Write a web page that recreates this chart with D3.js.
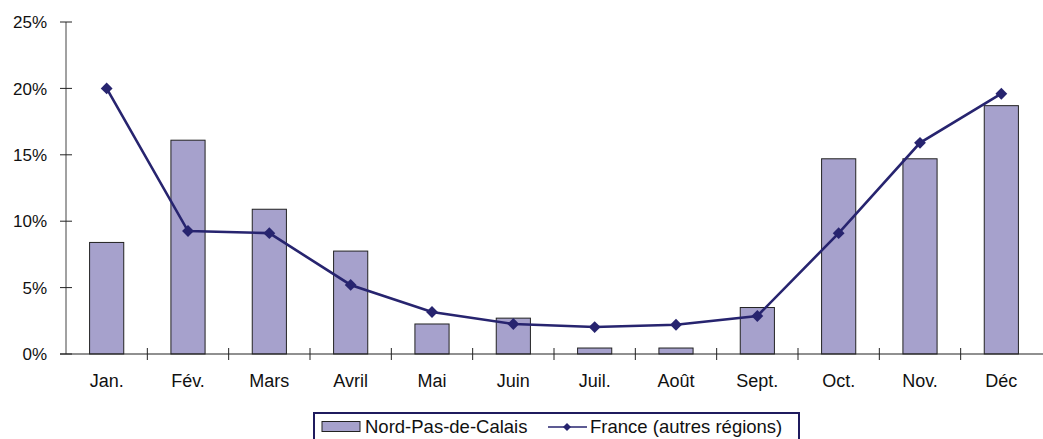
<!DOCTYPE html>
<html>
<head>
<meta charset="utf-8">
<script src="https://cdn.jsdelivr.net/npm/d3@7"></script>
<style>
  body { margin: 0; background: #fff; }
  text { font-family: "Liberation Sans", Arial, sans-serif; }
</style>
</head>
<body>
<script>
const months = ['Jan.', 'Fév.', 'Mars', 'Avril', 'Mai', 'Juin', 'Juil.', 'Août', 'Sept.', 'Oct.', 'Nov.', 'Déc']
const nordPasDeCalais = [8.4, 16.1, 10.9, 7.75, 2.26, 2.7, 0.45, 0.45, 3.5, 14.7, 14.7, 18.7]
const franceAutres = [20.0, 9.26, 9.1, 5.2, 3.16, 2.26, 2.03, 2.2, 2.86, 9.1, 15.9, 19.6]
const yTicks = [0, 5, 10, 15, 20, 25]
const seriesNames = ['Nord-Pas-de-Calais', 'France (autres régions)']

const WIDTH = 1043
const HEIGHT = 439
const barColor = '#a6a1cc'
const lineColor = '#27246f'

const svg = d3.select(document.body).append('svg')
  .attr('width', WIDTH)
  .attr('height', HEIGHT)

const x = d3.scaleBand()
  .domain(months)
  .range([66, 1042])
  .paddingInner(0.58)
  .paddingOuter(0.29)

const xTickScale = d3.scaleLinear().domain([0, 12]).range([66, 1042])

const y = d3.scaleLinear().domain([0, 25]).range([354, 22])

// bars
svg.append('g').selectAll('rect')
  .data(nordPasDeCalais)
  .enter()
  .append('rect')
  .attr('x', (d, i) => x(months[i]))
  .attr('y', d => y(d))
  .attr('width', x.bandwidth())
  .attr('height', d => y(0) - y(d))
  .attr('fill', barColor)
  .attr('stroke', '#222')
  .attr('stroke-width', 1)

// y axis
const yAxis = svg.append('g')
yAxis.append('line')
  .attr('x1', 66).attr('x2', 66)
  .attr('y1', y(25)).attr('y2', y(0))
  .attr('stroke', '#444').attr('stroke-width', 1)
yAxis.selectAll('line.tick')
  .data(yTicks)
  .enter()
  .append('line')
  .attr('class', 'tick')
  .attr('x1', 60).attr('x2', 72)
  .attr('y1', d => y(d)).attr('y2', d => y(d))
  .attr('stroke', '#222')
yAxis.selectAll('text')
  .data(yTicks)
  .enter()
  .append('text')
  .attr('x', 47)
  .attr('y', d => y(d))
  .attr('dy', '0.36em')
  .attr('text-anchor', 'end')
  .attr('font-size', 17)
  .attr('fill', '#111')
  .text(d => d + '%')

// x axis
const xAxis = svg.append('g')
xAxis.append('line')
  .attr('x1', 60).attr('x2', 1043)
  .attr('y1', y(0)).attr('y2', y(0))
  .attr('stroke', '#222').attr('stroke-width', 1.2)
xAxis.selectAll('line.tick')
  .data(d3.range(1, 12))
  .enter()
  .append('line')
  .attr('class', 'tick')
  .attr('x1', d => xTickScale(d)).attr('x2', d => xTickScale(d))
  .attr('y1', y(0) - 6).attr('y2', y(0) + 6)
  .attr('stroke', '#222')
xAxis.selectAll('text')
  .data(months)
  .enter()
  .append('text')
  .attr('x', d => x(d) + x.bandwidth() / 2)
  .attr('y', 387)
  .attr('text-anchor', 'middle')
  .attr('font-size', 18)
  .attr('fill', '#111')
  .text(d => d)

// line
const line = d3.line()
  .x((d, i) => x(months[i]) + x.bandwidth() / 2)
  .y(d => y(d))

svg.append('path')
  .datum(franceAutres)
  .attr('d', line)
  .attr('fill', 'none')
  .attr('stroke', lineColor)
  .attr('stroke-width', 2.6)

const diamond = d3.symbol().type(d3.symbolSquare).size(70)
svg.append('g').selectAll('path')
  .data(franceAutres)
  .enter()
  .append('path')
  .attr('d', diamond)
  .attr('transform', (d, i) => `translate(${x(months[i]) + x.bandwidth() / 2},${y(d)}) rotate(45)`)
  .attr('fill', lineColor)

// legend
const legend = svg.append('g')
legend.append('rect')
  .attr('x', 314).attr('y', 413)
  .attr('width', 485).attr('height', 30)
  .attr('fill', '#fff')
  .attr('stroke', '#1f1b5e')
  .attr('stroke-width', 2)
legend.append('rect')
  .attr('x', 322).attr('y', 421.5)
  .attr('width', 38).attr('height', 10)
  .attr('fill', barColor)
  .attr('stroke', '#222')
legend.append('text')
  .attr('x', 365).attr('y', 433)
  .attr('font-size', 18.5)
  .attr('fill', '#111')
  .text(seriesNames[0])
legend.append('line')
  .attr('x1', 548).attr('x2', 587)
  .attr('y1', 427).attr('y2', 427)
  .attr('stroke', lineColor).attr('stroke-width', 1.5)
legend.append('path')
  .attr('d', d3.symbol().type(d3.symbolSquare).size(32))
  .attr('transform', 'translate(567,427) rotate(45)')
  .attr('fill', lineColor)
legend.append('text')
  .attr('x', 590).attr('y', 433)
  .attr('font-size', 18.5)
  .attr('fill', '#111')
  .text(seriesNames[1])
</script>
</body>
</html>
